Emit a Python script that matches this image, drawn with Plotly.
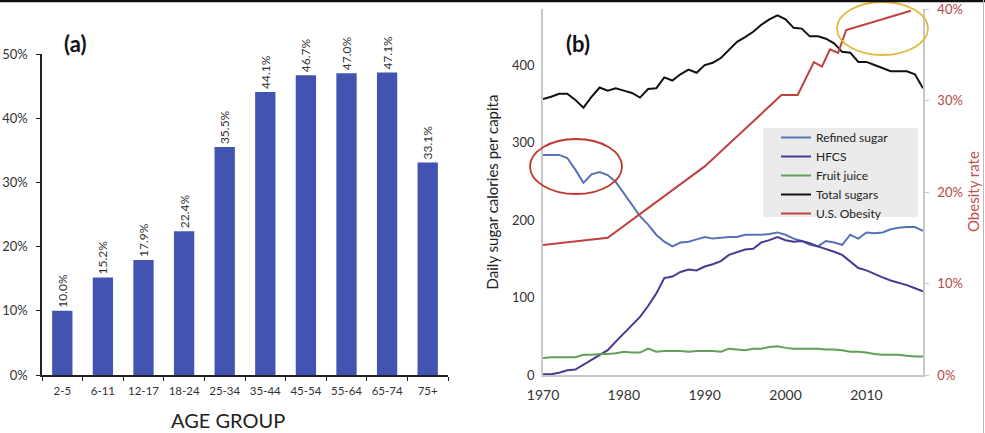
import plotly.graph_objects as go

W, H = 985, 433
FONT = "Lato"

# ---------------- Panel (a) data ----------------
age_groups = ["2-5", "6-11", "12-17", "18-24", "25-34", "35-44", "45-54", "55-64", "65-74", "75+"]
obesity_by_age = [10.0, 15.2, 17.9, 22.4, 35.5, 44.1, 46.7, 47.0, 47.1, 33.1]

# ---------------- Panel (b) data ----------------
years = list(range(1970, 2018))
refined_sugar = [284, 284, 284, 280, 265, 248, 259, 262, 258, 249,
                 234, 219, 205, 194, 181, 172, 166, 171, 172, 175,
                 178, 176, 177, 178, 178, 181, 181, 181, 182, 184,
                 181, 176, 173, 168, 166, 173, 171, 168, 181, 176,
                 184, 183, 184, 188, 190, 191, 191, 186]
hfcs = [1, 1, 3, 6, 7, 13, 19, 25, 32, 43,
        54, 65, 75, 89, 105, 125, 127, 133, 136, 135,
        140, 143, 147, 155, 158, 162, 163, 171, 174, 178,
        174, 172, 173, 170, 166, 163, 159, 155, 146, 138,
        135, 130, 126, 122, 119, 116, 112, 108]
fruit_juice = [22, 23, 23, 23, 23, 26, 26, 27, 27, 28,
               30, 29, 29, 34, 30, 31, 31, 31, 30, 31,
               31, 31, 30, 34, 33, 32, 34, 34, 36, 37,
               35, 34, 34, 34, 34, 33, 33, 32, 30, 30,
               29, 27, 26, 26, 26, 25, 24, 24]
total_sugars = [356, 359, 363, 363, 355, 345, 359, 371, 367, 370,
                367, 364, 358, 369, 370, 384, 380, 388, 394, 390,
                400, 403, 409, 419, 430, 436, 443, 452, 459, 464,
                459, 448, 447, 437, 437, 434, 428, 417, 416, 404,
                404, 400, 396, 392, 392, 392, 388, 370]
obesity_years = [1970, 1978, 1990, 1999.5, 2001.5, 2003.5, 2004.5, 2005.5, 2006.5, 2007.5, 2015.5]
obesity_rate = [14.2, 15.0, 22.8, 30.6, 30.6, 34.2, 33.7, 35.6, 35.2, 37.7, 39.8]

series_names = ["Refined sugar", "HFCS", "Fruit juice", "Total sugars", "U.S. Obesity"]
series_colors = ["#5673B6", "#4A3893", "#62A05A", "#111111", "#C0403F"]


def px(x):
    return x / W


def py(y):
    return 1 - y / H


fig = go.Figure()

# Panel (a) bars
fig.add_trace(go.Bar(
    x=age_groups, y=obesity_by_age, xaxis="x", yaxis="y",
    marker=dict(color="#4353B2", line=dict(width=0)),
    texttemplate="%{y:.1f}%", textposition="outside", textangle=-90,
    constraintext="none",
    textfont=dict(family=FONT, size=12, color="#333333"),
    cliponaxis=False, showlegend=False,
))

# Panel (b) lines
for name, vals, col in zip(series_names[:4], [refined_sugar, hfcs, fruit_juice, total_sugars], series_colors[:4]):
    fig.add_trace(go.Scatter(
        x=years, y=vals, mode="lines", name=name, xaxis="x2", yaxis="y2",
        line=dict(color=col, width=2),
    ))
fig.add_trace(go.Scatter(
    x=obesity_years, y=obesity_rate, mode="lines", name=series_names[4],
    xaxis="x2", yaxis="y3", line=dict(color=series_colors[4], width=2),
))

ydom = [py(375), py(54)]
ydom_b = [py(375), py(9)]

fig.update_layout(
    width=W, height=H, autosize=False,
    margin=dict(l=0, r=0, t=0, b=0, pad=0, autoexpand=False),
    paper_bgcolor="white", plot_bgcolor="rgba(0,0,0,0)",
    font=dict(family=FONT, color="#333333"),
    bargap=0.5,
    xaxis=dict(
        domain=[px(42), px(448)], anchor="y", type="category", automargin=False,
        range=[-0.5, 9.5], tickson="boundaries", ticks="outside", ticklen=4,
        tickcolor="#222222", showline=True, linecolor="#222222", linewidth=1.5,
        showgrid=False, tickfont=dict(size=11.5, color="#333333"), tickangle=0,
        ticklabelstandoff=4,
    ),
    yaxis=dict(
        domain=ydom, anchor="x", range=[0, 50], dtick=10, ticksuffix="%", automargin=False,
        ticks="outside", ticklen=4, tickcolor="#222222",
        showline=True, linecolor="#222222", linewidth=1.5, showgrid=False,
        zeroline=False, tickfont=dict(size=13, color="#333333"),
        ticklabelstandoff=6, ticklabeloverflow="allow",
    ),
    xaxis2=dict(
        domain=[px(543), px(923)], anchor="y2", range=[1970, 2017], automargin=False,
        tick0=1970, dtick=10, ticks="", showline=True, linecolor="#C8C8C8",
        linewidth=1.5, showgrid=False, zeroline=False,
        tickfont=dict(size=14, color="#333333"), ticklabelstandoff=6,
    ),
    yaxis2=dict(
        domain=ydom_b, anchor="x2", range=[0, 472.3], tickvals=[0, 100, 200, 300, 400],
        automargin=False,
        ticks="", showline=True, linecolor="#C8C8C8", linewidth=1.5,
        showgrid=False, zeroline=False, tickfont=dict(size=13, color="#333333"),
        ticklabelstandoff=4,
        title=dict(text="Daily sugar calories per capita", font=dict(size=15, color="#222222"), standoff=10),
    ),
    yaxis3=dict(
        domain=ydom_b, anchor="x2", overlaying="y2", side="right", automargin=False,
        range=[0, 40], dtick=10, ticksuffix="%",
        ticks="outside", ticklen=4, tickcolor="#C8C8C8",
        showline=True, linecolor="#C8C8C8", linewidth=1.5, showgrid=False,
        zeroline=False, tickfont=dict(size=13, color="#B5474A"),
        ticklabelstandoff=6, ticklabeloverflow="allow",
    ),
    legend=dict(
        x=px(776), y=py(123), xanchor="left", yanchor="top",
        bgcolor="rgba(0,0,0,0)", borderwidth=0,
        font=dict(size=12, color="#222222"), tracegroupgap=0,
    ),
    showlegend=True,
)

shapes = [
    # legend background box
    dict(type="rect", xref="paper", yref="paper", x0=px(763), x1=px(918), y0=py(217), y1=py(128),
         fillcolor="#EBEBEB", line=dict(width=0), layer="above"),
    # red ellipse
    dict(type="circle", xref="paper", yref="paper", x0=px(530), x1=px(622), y0=py(194), y1=py(139),
         line=dict(color="#C0392B", width=1.8), layer="above"),
    # yellow ellipse
    dict(type="circle", xref="paper", yref="paper", x0=px(837), x1=px(928), y0=py(55), y1=py(2),
         line=dict(color="#E2B93B", width=1.8), layer="above"),
    # top border
    dict(type="line", xref="paper", yref="paper", x0=0, x1=1, y0=py(1), y1=py(1),
         line=dict(color="#111111", width=2.5), layer="above"),
    # right border
    dict(type="line", xref="paper", yref="paper", x0=px(983.5), x1=px(983.5), y0=0, y1=1,
         line=dict(color="#BBBBBB", width=1), layer="above"),
]
fig.update_layout(shapes=shapes)

annotations = [
    dict(text="<b>(a)</b>", x=px(75), y=py(43), xref="paper", yref="paper",
         xanchor="center", yanchor="middle",
         showarrow=False, font=dict(size=22, color="#111111")),
    dict(text="<b>(b)</b>", x=px(578), y=py(43), xref="paper", yref="paper",
         xanchor="center", yanchor="middle",
         showarrow=False, font=dict(size=22, color="#111111")),
    dict(text="AGE GROUP", x=px(228), y=py(420), xref="paper", yref="paper",
         xanchor="center", yanchor="middle",
         showarrow=False, font=dict(size=20, color="#222222")),
    dict(text="Obesity rate", x=px(973), y=py(192), xref="paper", yref="paper",
         xanchor="center", yanchor="middle",
         textangle=-90, showarrow=False, font=dict(size=15, color="#C0504D")),
]
fig.update_layout(annotations=annotations)

# The browser's default 8px page margin would shift the fixed-size figure; remove it.
fig.write_html("out.html", config={"displayModeBar": False},
               post_script="document.body.style.margin='0';")
